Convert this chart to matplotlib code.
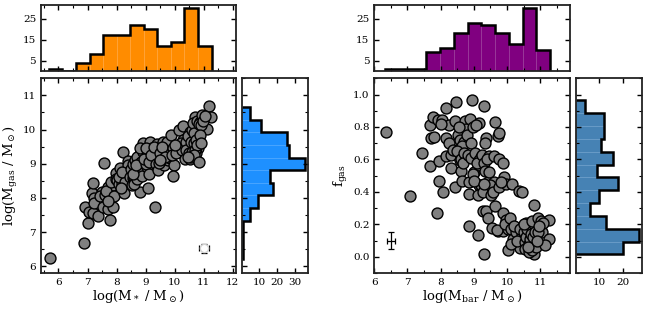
import numpy as np
import matplotlib
matplotlib.use('Agg')
import matplotlib.pyplot as plt
from matplotlib.ticker import MultipleLocator

plt.rcParams['font.family'] = ['DejaVu Serif']
plt.rcParams['mathtext.fontset'] = 'dejavuserif'

# left panel: log M* vs log Mgas
mstar = [5.70, 6.89, 7.00, 6.92, 7.06,
         7.18, 7.15, 7.18, 7.24, 7.21, 7.36, 7.50, 7.42,
         7.58, 7.55, 7.70, 7.76, 7.86, 7.61, 7.69, 7.76, 7.84, 7.95, 7.87, 7.98,
         7.65, 7.80, 7.92, 7.72, 7.97,
         8.01, 8.07, 8.18, 8.24, 8.12, 8.24, 8.35, 8.41, 8.21, 8.41, 8.27,
         8.10, 8.30, 8.38, 8.20, 8.45, 8.15,
         8.58, 8.64, 8.75, 8.81, 8.81, 8.92, 8.52, 8.61, 8.69,
         8.50, 8.55, 8.60, 8.65, 8.70, 8.72, 8.78, 8.83, 8.86, 8.90, 8.55, 8.80, 8.68,
         9.07, 9.07, 9.15, 9.04, 9.21, 9.32, 9.23, 9.38, 9.15, 9.32, 9.36, 9.27, 9.00,
         8.95, 9.00, 9.10, 9.18, 9.28, 9.35, 9.12,
         9.61, 9.49, 9.43, 9.63, 9.78, 9.78, 9.47, 9.72, 9.83, 9.55, 9.68, 9.50,
         9.89, 9.95, 9.97, 9.95, 10.15, 10.15, 10.27, 10.29, 10.12,
         9.90, 10.05, 10.20, 10.25, 10.00,
         10.35, 10.41, 10.52, 10.54, 10.61, 10.69, 10.63, 10.75, 10.79, 10.79, 10.73,
         10.50, 10.40, 10.57, 10.74,
         10.38, 10.45, 10.48, 10.55, 10.58, 10.60, 10.62, 10.66, 10.68, 10.70, 10.72,
         10.76, 10.78, 10.65, 10.45,
         10.84, 10.86, 10.95, 11.11, 11.18, 11.26, 10.84, 10.92,
         10.88, 10.98, 11.05, 10.90]
mgas = [6.24, 6.68, 7.26, 7.74, 7.60,
        7.57, 8.15, 8.44, 7.99, 7.84, 7.47, 8.18, 8.05,
        9.01, 7.74, 7.67, 7.36, 7.73, 8.08, 8.33, 8.00, 8.15, 8.33, 8.38, 8.73,
        8.20, 8.45, 8.05, 7.92, 8.55,
        8.52, 8.41, 8.43, 8.13, 8.86, 8.57, 8.72, 8.81, 9.35, 9.08, 8.67,
        8.60, 8.45, 8.95, 8.75, 8.60, 8.30,
        8.57, 8.76, 8.96, 8.18, 9.27, 9.61, 8.38, 8.57, 8.72,
        8.85, 9.00, 8.40, 9.10, 8.55, 9.20, 8.80, 9.05, 8.65, 9.35, 8.70, 9.45, 8.95,
        9.30, 8.28, 9.64, 8.89, 8.91, 7.74, 9.45, 9.59, 9.15, 9.10, 9.35, 8.86, 8.98,
        9.15, 9.45, 9.05, 9.25, 9.50, 9.00, 8.70,
        9.64, 9.30, 8.83, 8.96, 9.35, 9.10, 9.01, 9.64, 9.16, 9.50, 9.20, 9.10,
        9.83, 9.45, 8.96, 8.64, 9.45, 10.00, 10.10, 9.69, 9.35,
        9.25, 9.30, 9.60, 9.40, 9.55,
        9.15, 9.59, 9.93, 9.15, 9.49, 10.37, 9.78, 10.08, 9.69, 9.45, 9.30,
        9.51, 9.64, 9.20, 10.03,
        9.40, 9.80, 9.30, 9.65, 10.00, 9.35, 10.20, 9.60, 9.90, 9.40, 9.70,
        10.25, 9.55, 9.25, 9.20,
        9.05, 10.22, 10.42, 10.03, 10.68, 10.37, 10.17, 10.13,
        9.85, 10.25, 10.40, 9.60]

# right panel: log Mbar vs fgas
mbar = [6.35, 7.07, 7.45,
        7.69, 7.77, 7.92, 7.72, 7.79, 7.69, 7.95, 7.95, 7.89,
        8.05, 8.17, 8.25, 8.17, 8.25, 8.15, 8.32, 8.37, 8.32, 8.07, 8.02,
        8.45, 8.42, 8.52, 8.57, 8.75, 8.77, 8.72, 8.65, 8.49, 8.57, 8.60, 8.42, 8.65,
        8.62, 8.70, 8.55, 8.80, 8.68,
        8.95, 8.90, 8.97, 9.15, 8.92, 8.87, 8.85, 9.02, 8.82, 8.92, 9.05, 9.15, 9.22,
        9.17, 9.12, 8.87, 9.12, 9.07, 8.97, 9.17, 9.22, 9.10, 9.00,
        9.32, 9.38, 9.35, 9.26, 9.47, 9.32, 9.35, 9.42, 9.62, 9.27, 9.53, 9.28, 9.38,
        9.43, 9.56, 9.32, 9.40, 9.50, 9.58, 9.45, 9.30, 9.60,
        9.65, 9.72, 9.76, 9.77, 9.87, 9.77, 9.92, 9.98, 9.65, 9.89, 9.98, 9.72, 9.87,
        10.02, 9.70, 10.04, 9.82, 9.95,
        10.16, 10.35, 10.46, 10.08, 10.13, 10.17, 10.28, 10.38, 10.46, 10.12,
        10.22, 10.30, 10.40,
        10.53, 10.58, 10.65, 10.62, 10.73, 10.78, 10.83, 10.86, 10.83, 10.83, 10.68, 10.78,
        10.50, 10.55, 10.57, 10.60, 10.63, 10.66, 10.68, 10.70, 10.72, 10.74, 10.76,
        10.79, 10.81, 10.85, 10.87, 10.52, 10.64, 10.75,
        10.95, 11.03, 11.06, 11.28, 11.28, 11.16, 10.93, 10.92, 11.10, 10.98]
fgas = [0.77, 0.376, 0.64,
        0.81, 0.86, 0.846, 0.73, 0.74, 0.56, 0.59, 0.466, 0.267,
        0.846, 0.92, 0.81, 0.733, 0.70, 0.62, 0.626, 0.66, 0.55, 0.40, 0.82,
        0.955, 0.835, 0.75, 0.72, 0.84, 0.79, 0.71, 0.68, 0.65, 0.595, 0.53, 0.43, 0.466,
        0.60, 0.64, 0.80, 0.75, 0.58,
        0.965, 0.85, 0.80, 0.825, 0.70, 0.46, 0.39, 0.52, 0.626, 0.606, 0.64, 0.565, 0.616,
        0.44, 0.38, 0.19, 0.134, 0.81, 0.51, 0.595, 0.44, 0.58, 0.47,
        0.93, 0.73, 0.70, 0.63, 0.62, 0.575, 0.53, 0.46, 0.46, 0.40, 0.38, 0.28, 0.28,
        0.24, 0.18, 0.02, 0.60, 0.44, 0.40, 0.52, 0.45, 0.62,
        0.83, 0.745, 0.765, 0.60, 0.58, 0.43, 0.49, 0.45, 0.31, 0.27, 0.226, 0.16, 0.16,
        0.04, 0.165, 0.17, 0.46, 0.20,
        0.446, 0.405, 0.40, 0.24, 0.17, 0.11, 0.154, 0.055, 0.134, 0.08,
        0.19, 0.10, 0.17,
        0.092, 0.206, 0.123, 0.041, 0.052, 0.175, 0.017, 0.216, 0.092, 0.32, 0.154, 0.07,
        0.15, 0.05, 0.12, 0.17, 0.20, 0.08, 0.03, 0.11, 0.19, 0.14, 0.04,
        0.12, 0.20, 0.15, 0.06, 0.20, 0.06, 0.22,
        0.24, 0.22, 0.154, 0.226, 0.109, 0.072, 0.154, 0.10, 0.21, 0.19]

# histogram counts
mstar_edges = np.linspace(5.67, 11.27, 13)
mstar_counts = [1, 0, 4, 8, 17, 17, 22, 20, 12, 14, 30, 12]
mgas_edges = np.linspace(6.22, 10.66, 13)
mgas_counts = [1, 1, 1, 5, 9, 18, 16, 36, 27, 26, 11, 5]
mbar_edges = np.linspace(6.33, 11.30, 13)
mbar_counts = [1, 1, 1, 9, 11, 18, 23, 22, 18, 13, 30, 10]
fgas_edges = np.linspace(0.015, 0.964, 13)
fgas_counts = [20, 27, 13, 6, 10, 18, 9, 16, 11, 12, 12, 4]


def style(ax, xminor=None, yminor=None):
    ax.tick_params(which='both', direction='in', top=True, right=True, labelsize=7.5)
    ax.tick_params(which='major', length=3.5, width=1)
    ax.tick_params(which='minor', length=2, width=0.8)
    for s in ax.spines.values():
        s.set_linewidth(1.3)
        s.set_color('#222222')
    if xminor:
        ax.xaxis.set_minor_locator(MultipleLocator(xminor))
    if yminor:
        ax.yaxis.set_minor_locator(MultipleLocator(yminor))


def marg_hist(ax, edges, counts, color, seam, horiz=False):
    o = 'horizontal' if horiz else 'vertical'
    ax.hist(edges[:-1], bins=edges, weights=counts, color=color, orientation=o,
            ec=seam, lw=0.6)
    ax.hist(edges[:-1], bins=edges, weights=counts, histtype='step', color='k',
            lw=1.8, orientation=o)


fig = plt.figure(figsize=(6.49, 3.09), dpi=100)

# ---- left block
ax1 = fig.add_axes([0.0632, 0.1165, 0.300, 0.630])
ax1t = fig.add_axes([0.0632, 0.7702, 0.300, 0.2136])
ax1r = fig.add_axes([0.3724, 0.1165, 0.1026, 0.630])

ax1.scatter(mstar, mgas, s=62, c='gray', edgecolors='k', linewidths=1, zorder=3)
ax1.errorbar(11.0, 6.52, xerr=0.17, yerr=0.12, fmt='o', ms=6, mfc='white', mec='0.82',
             ecolor='k', elinewidth=0.9, capsize=2, capthick=0.9, zorder=4)
ax1.set_xlim(5.4, 12.1)
ax1.set_ylim(5.8, 11.5)
ax1.set_xticks(range(6, 13))
style(ax1, 0.5, 0.5)
ax1.set_xlabel(r'log(M$_*$ / M$_\odot$)', fontsize=9.5, labelpad=1)
ax1.set_ylabel(r'log(M$_{\rm gas}$ / M$_\odot$)', fontsize=9.5, labelpad=2)

marg_hist(ax1t, mstar_edges, mstar_counts, 'darkorange', '#ffa43a')
ax1t.set_xlim(5.4, 12.1)
ax1t.set_xticks(range(6, 13))
ax1t.set_yticks([5, 15, 25])
style(ax1t, 0.5)
ax1t.tick_params(labelbottom=False)

marg_hist(ax1r, mgas_edges, mgas_counts, 'dodgerblue', '#4aa6ff', horiz=True)
ax1r.set_ylim(5.8, 11.5)
ax1r.set_xticks([10, 20, 30])
style(ax1r, None, 0.5)
ax1r.tick_params(labelleft=False)

# ---- right block
ax2 = fig.add_axes([0.5767, 0.1165, 0.3015, 0.630])
ax2t = fig.add_axes([0.5767, 0.7702, 0.3015, 0.2136])
ax2r = fig.add_axes([0.887, 0.1165, 0.1026, 0.630])

ax2.scatter(mbar, fgas, s=62, c='gray', edgecolors='k', linewidths=1, zorder=3)
ax2.errorbar(6.5, 0.1, xerr=0.11, yerr=0.05, fmt='none', ecolor='k', elinewidth=0.9,
             capsize=2, capthick=0.9, zorder=4)
ax2.set_xlim(6.0, 11.9)
ax2.set_ylim(-0.1, 1.1)
ax2.set_xticks(range(6, 12))
ax2.set_yticks(np.arange(0, 1.01, 0.2))
style(ax2, 0.5, 0.1)
ax2.set_xlabel(r'log(M$_{\rm bar}$ / M$_\odot$)', fontsize=9.5, labelpad=1)
ax2.set_ylabel(r'f$_{\rm gas}$', fontsize=9.5, labelpad=2)

marg_hist(ax2t, mbar_edges, mbar_counts, 'purple', '#9a3a9a')
ax2t.set_xlim(6.0, 11.9)
ax2t.set_xticks(range(6, 12))
ax2t.set_yticks([5, 15, 25])
style(ax2t, 0.5)
ax2t.tick_params(labelbottom=False)

marg_hist(ax2r, fgas_edges, fgas_counts, 'steelblue', '#6a9cc8', horiz=True)
ax2r.set_ylim(-0.1, 1.1)
ax2r.set_xticks([10, 20])
ax2r.set_yticks(np.arange(0, 1.01, 0.2))
style(ax2r, None, 0.1)
ax2r.tick_params(labelleft=False)

fig.savefig('out.png', dpi=100)
